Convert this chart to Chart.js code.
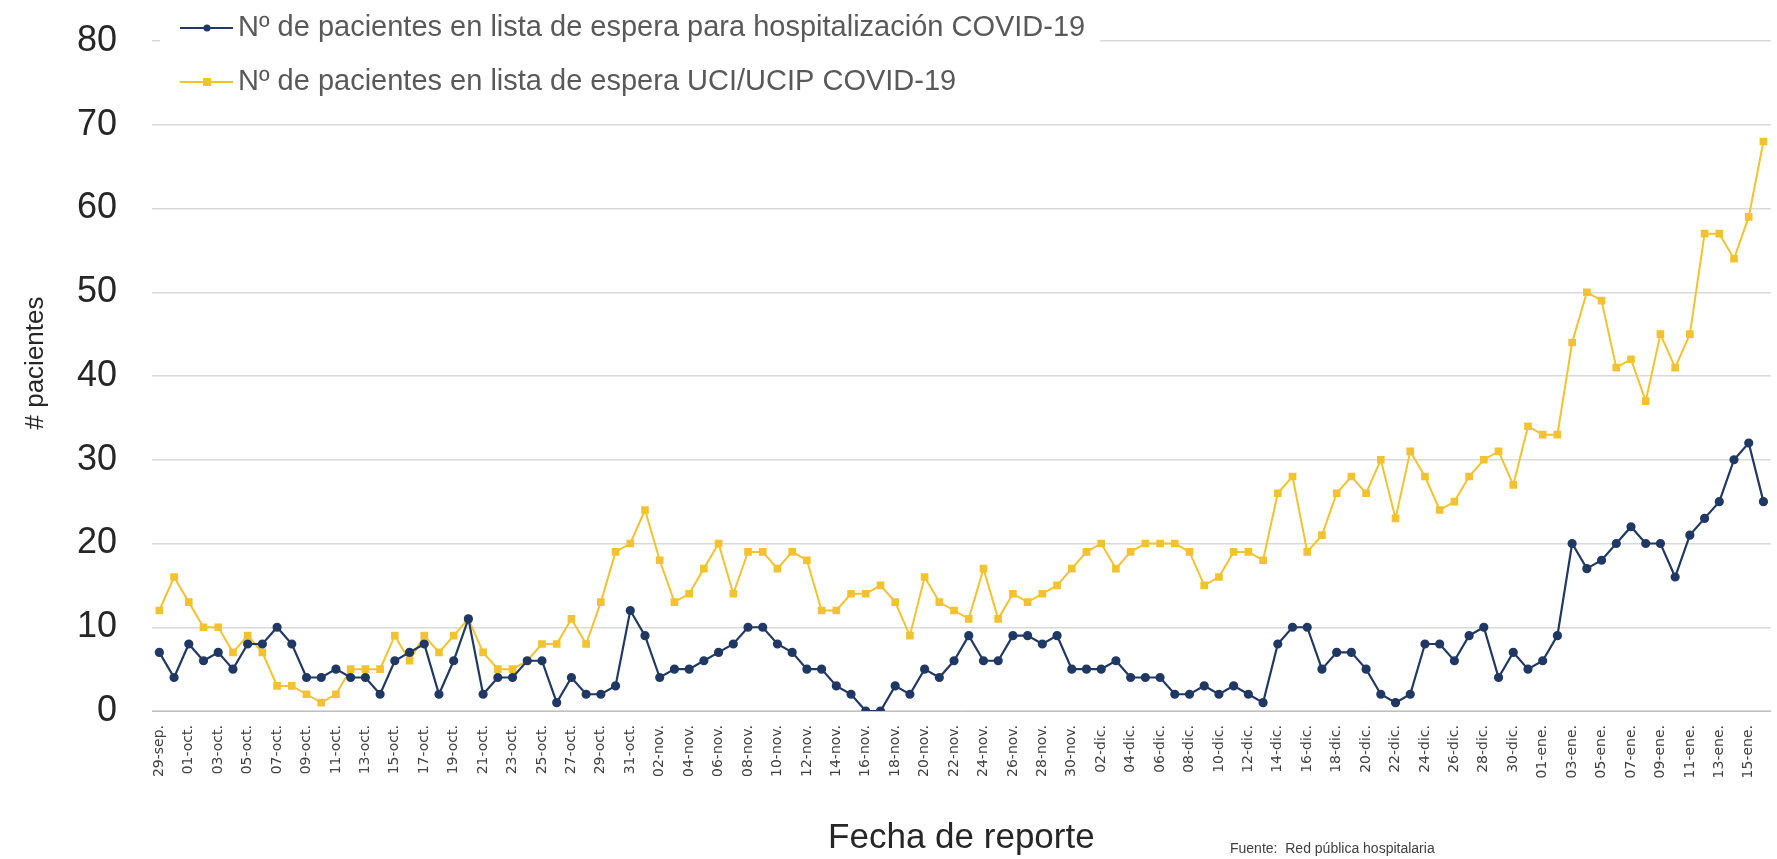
<!DOCTYPE html>
<html>
<head>
<meta charset="utf-8">
<script src="https://cdn.jsdelivr.net/npm/chart.js@4.4.1/dist/chart.umd.min.js"></script>
<style>
  html, body { margin: 0; padding: 0; background: #fff; }
  #wrap { width: 1777px; height: 859px; position: relative; }
</style>
</head>
<body>
<div id="wrap"><canvas id="ChartEspera"></canvas></div>
<script>
// fechas de reporte (29-sep al 16-ene)
var fechas = [
  '29-sep.','30-sep.',
  '01-oct.','02-oct.','03-oct.','04-oct.','05-oct.','06-oct.','07-oct.','08-oct.','09-oct.','10-oct.',
  '11-oct.','12-oct.','13-oct.','14-oct.','15-oct.','16-oct.','17-oct.','18-oct.','19-oct.','20-oct.',
  '21-oct.','22-oct.','23-oct.','24-oct.','25-oct.','26-oct.','27-oct.','28-oct.','29-oct.','30-oct.','31-oct.',
  '01-nov.','02-nov.','03-nov.','04-nov.','05-nov.','06-nov.','07-nov.','08-nov.','09-nov.','10-nov.',
  '11-nov.','12-nov.','13-nov.','14-nov.','15-nov.','16-nov.','17-nov.','18-nov.','19-nov.','20-nov.',
  '21-nov.','22-nov.','23-nov.','24-nov.','25-nov.','26-nov.','27-nov.','28-nov.','29-nov.','30-nov.',
  '01-dic.','02-dic.','03-dic.','04-dic.','05-dic.','06-dic.','07-dic.','08-dic.','09-dic.','10-dic.',
  '11-dic.','12-dic.','13-dic.','14-dic.','15-dic.','16-dic.','17-dic.','18-dic.','19-dic.','20-dic.',
  '21-dic.','22-dic.','23-dic.','24-dic.','25-dic.','26-dic.','27-dic.','28-dic.','29-dic.','30-dic.','31-dic.',
  '01-ene.','02-ene.','03-ene.','04-ene.','05-ene.','06-ene.','07-ene.','08-ene.','09-ene.','10-ene.',
  '11-ene.','12-ene.','13-ene.','14-ene.','15-ene.','16-ene.'
];

var hospitalizacion = [
  7, 4, 8, 6, 7, 5, 8, 8, 10, 8,
  4, 4, 5, 4, 4, 2, 6, 7, 8, 2,
  6, 11, 2, 4, 4, 6, 6, 1, 4, 2,
  2, 3, 12, 9, 4, 5, 5, 6, 7, 8,
  10, 10, 8, 7, 5, 5, 3, 2, 0, 0,
  3, 2, 5, 4, 6, 9, 6, 6, 9, 9,
  8, 9, 5, 5, 5, 6, 4, 4, 4, 2,
  2, 3, 2, 3, 2, 1, 8, 10, 10, 5,
  7, 7, 5, 2, 1, 2, 8, 8, 6, 9,
  10, 4, 7, 5, 6, 9, 20, 17, 18, 20,
  22, 20, 20, 16, 21, 23, 25, 30, 32, 25
];

var uci = [
  12, 16, 13, 10, 10, 7, 9, 7, 3, 3,
  2, 1, 2, 5, 5, 5, 9, 6, 9, 7,
  9, 11, 7, 5, 5, 6, 8, 8, 11, 8,
  13, 19, 20, 24, 18, 13, 14, 17, 20, 14,
  19, 19, 17, 19, 18, 12, 12, 14, 14, 15,
  13, 9, 16, 13, 12, 11, 17, 11, 14, 13,
  14, 15, 17, 19, 20, 17, 19, 20, 20, 20,
  19, 15, 16, 19, 19, 18, 26, 28, 19, 21,
  26, 28, 26, 30, 23, 31, 28, 24, 25, 28,
  30, 31, 27, 34, 33, 33, 44, 50, 49, 41,
  42, 37, 45, 41, 45, 57, 57, 54, 59, 68
];

var etiquetas = [
  'Nº de pacientes en lista de espera para hospitalización COVID-19',
  'Nº de pacientes en lista de espera UCI/UCIP COVID-19'
];
var tituloY = '# pacientes';
var tituloX = 'Fecha de reporte';
var fuente = 'Fuente:  Red pública hospitalaria';

var azul = '#203864';
var amarillo = '#F2C230';
var gris = '#595959';

function $each(arr, fn) {
  for (var i = 0; i < arr.length; i++) {
    fn(i, arr[i]);
  }
}

// leyenda en dos filas dentro del área, título Y y nota de fuente
var leyenda = {
  id: 'leyenda',
  beforeDatasetsDraw: function (chart) {
    var ctx = chart.ctx;
    ctx.save();
    ctx.fillStyle = '#ffffff';
    ctx.fillRect(160, 0, 940, 105);
    ctx.restore();
  },
  afterDraw: function (chart) {
    var ctx = chart.ctx;
    ctx.save();
    $each(chart.data.datasets, function (i, ds) {
      var y = 28 + i * 54;
      ctx.strokeStyle = ds.borderColor;
      ctx.lineWidth = 2;
      ctx.beginPath();
      ctx.moveTo(180, y);
      ctx.lineTo(233, y);
      ctx.stroke();
      ctx.fillStyle = ds.pointBackgroundColor;
      if (ds.pointStyle === 'rect') {
        ctx.fillRect(207 - 4, y - 4, 8, 8);
      } else {
        ctx.beginPath();
        ctx.arc(207, y, 3.5, 0, Math.PI * 2);
        ctx.fill();
      }
      ctx.fillStyle = gris;
      ctx.font = '29px "Liberation Sans", Arial, sans-serif';
      ctx.textBaseline = 'middle';
      ctx.textAlign = 'left';
      ctx.fillText(ds.label, 238, y);
    });

    // título del eje Y
    ctx.save();
    ctx.translate(36, 363);
    ctx.rotate(-Math.PI / 2);
    ctx.fillStyle = '#262626';
    ctx.font = '26px "Liberation Sans", Arial, sans-serif';
    ctx.textAlign = 'center';
    ctx.textBaseline = 'middle';
    ctx.fillText(tituloY, 0, 0);
    ctx.restore();

    ctx.fillStyle = '#404040';
    ctx.font = '14px "Liberation Sans", Arial, sans-serif';
    ctx.textAlign = 'left';
    ctx.textBaseline = 'alphabetic';
    ctx.fillText(fuente, 1230, 853);
    ctx.restore();
  }
};

function CreateChart() {
  var ctx = document.getElementById('ChartEspera').getContext('2d');
  var chart = new Chart(ctx, {
    type: 'line',
    data: {
      labels: fechas,
      datasets: [{
        label: etiquetas[0],
        data: hospitalizacion,
        borderColor: azul,
        backgroundColor: azul,
        pointBackgroundColor: azul,
        pointBorderColor: azul,
        pointStyle: 'circle',
        pointRadius: 3.5,
        borderWidth: 2.2,
        fill: false,
        tension: 0
      }, {
        label: etiquetas[1],
        data: uci,
        borderColor: amarillo,
        backgroundColor: amarillo,
        pointBackgroundColor: amarillo,
        pointBorderColor: amarillo,
        pointStyle: 'rect',
        pointRadius: 4,
        borderWidth: 2,
        fill: false,
        tension: 0
      }]
    },
    options: {
      responsive: true,
      maintainAspectRatio: false,
      animation: false,
      layout: { padding: { left: 0, right: 2, top: 41, bottom: 0 } },
      plugins: {
        legend: { display: false },
        tooltip: { enabled: false }
      },
      scales: {
        x: {
          offset: true,
          afterFit: function (scale) {
            scale.height = 148;
            scale.paddingLeft = 0;
            scale.paddingRight = 0;
          },
          grid: { display: false },
          border: { display: true, color: '#bfbfbf', width: 1 },
          ticks: {
            autoSkip: false,
            minRotation: 90,
            maxRotation: 90,
            padding: 6,
            color: '#404040',
            font: { family: '"DejaVu Sans", sans-serif', size: 14 },
            callback: function (value, index) {
              return index % 2 === 0 ? this.getLabelForValue(value) : '';
            }
          },
          title: {
            display: true,
            text: tituloX,
            color: '#262626',
            font: { family: '"Liberation Sans", Arial, sans-serif', size: 35 },
            padding: { top: 0, bottom: 0 }
          }
        },
        y: {
          min: 0,
          max: 80,
          afterFit: function (scale) {
            scale.width = 152;
            scale.paddingTop = 0;
            scale.paddingBottom = 0;
          },
          grid: { color: '#d9d9d9', lineWidth: 1.5, drawTicks: false },
          border: { display: false },
          ticks: {
            stepSize: 10,
            padding: 35,
            color: '#262626',
            font: { family: '"Liberation Sans", Arial, sans-serif', size: 36 }
          }
        }
      }
    },
    plugins: [leyenda]
  });
}

CreateChart();
</script>
</body>
</html>
